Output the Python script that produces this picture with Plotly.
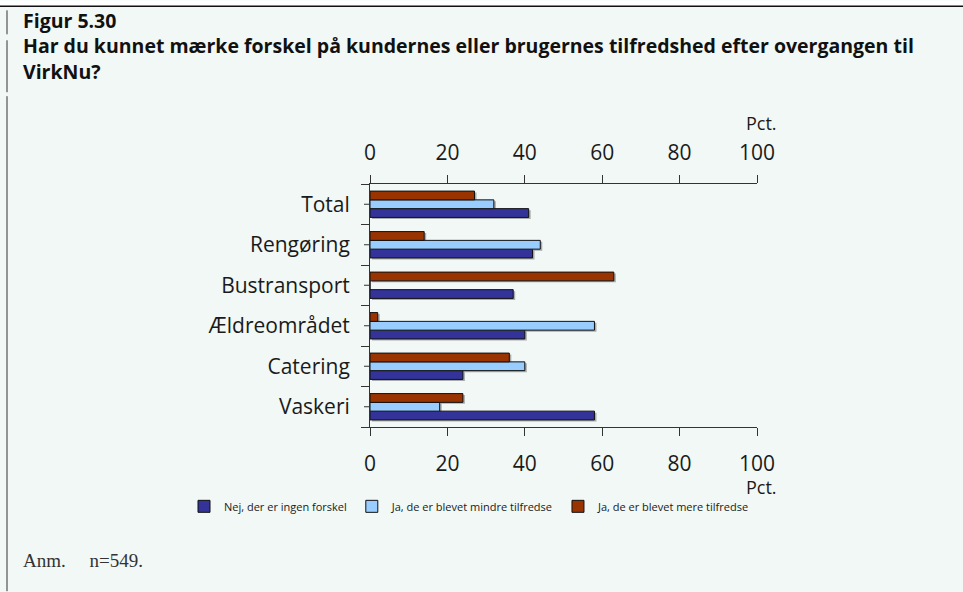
import plotly.graph_objects as go

# Survey results: change in customer/user satisfaction after the transition to VirkNu (pct.)
categories = ["Total", "Rengøring", "Bustransport", "Ældreområdet", "Catering", "Vaskeri"]
series_names = [
    "Nej, der er ingen forskel",
    "Ja, de er blevet mindre tilfredse",
    "Ja, de er blevet mere tilfredse",
]
ingen_forskel = [41, 42, 37, 40, 24, 58]
mindre_tilfredse = [32, 44, 0, 58, 40, 18]
mere_tilfredse = [27, 14, 63, 2, 36, 24]
x_ticks = [0, 20, 40, 60, 80, 100]

colors = ["#333399", "#99CCFF", "#993300"]
BG = "#F1F8F5"

W, H = 963, 592
L, R, T, B = 370, 757, 184, 427.5


def px(x):
    return (x - L) / (R - L)


def py(y):
    return (B - y) / (B - T)


# drop shadow offset in pixels, converted to axis units
SHADOW_DX, SHADOW_DY = 2.0, 1.5
dx_units = SHADOW_DX * 100 / (R - L)
dy_units = SHADOW_DY * len(categories) / (B - T)

series = [ingen_forskel, mindre_tilfredse, mere_tilfredse]
fig = go.Figure()

# shadows on the hidden base axes (drawn underneath)
for name, vals in zip(series_names, series):
    fig.add_trace(go.Bar(
        y=categories, x=vals, orientation="h", xaxis="x", yaxis="y",
        marker=dict(color="rgba(80,80,80,0.45)", line=dict(width=0)),
        showlegend=False, hoverinfo="skip",
    ))

# the bars themselves
for name, vals, col in zip(series_names, series, colors):
    fig.add_trace(go.Bar(
        y=categories, x=vals, name=name, orientation="h", xaxis="x2", yaxis="y2",
        marker=dict(color=col, line=dict(color="#111111", width=1)),
    ))

# invisible trace to carry the top axis
fig.add_trace(go.Scatter(x=[0, 100], y=[categories[0], categories[0]], xaxis="x3", yaxis="y2",
                         mode="markers", marker=dict(opacity=0), showlegend=False,
                         hoverinfo="skip"))

axis_common = dict(
    range=[0, 100], tickvals=x_ticks, showgrid=False, zeroline=False,
    showline=True, linecolor="#333333", linewidth=1,
    ticks="outside", ticklen=8, tickcolor="#333333", tickwidth=1,
    tickfont=dict(family="Open Sans", size=21, color="#1a1a1a"),
)
hidden = dict(visible=False, showgrid=False, zeroline=False, fixedrange=True)

fig.update_layout(
    width=W, height=H, autosize=False,
    margin=dict(l=L, r=W - R, t=T, b=H - B, autoexpand=False),
    paper_bgcolor=BG, plot_bgcolor=BG,
    barmode="group", bargap=0.35, bargroupgap=0,
    xaxis=dict(**hidden, range=[-dx_units, 100 - dx_units]),
    yaxis=dict(**hidden, type="category", categoryorder="array",
               categoryarray=categories[::-1],
               range=[-0.5 + dy_units, len(categories) - 0.5 + dy_units]),
    xaxis2=dict(**axis_common, side="bottom", overlaying="x", anchor="y2",
                ticklabelstandoff=10),
    xaxis3=dict(**axis_common, side="top", overlaying="x", anchor="y2",
                ticklabelstandoff=7),
    yaxis2=dict(
        overlaying="y", anchor="x2", side="left",
        categoryorder="array", categoryarray=categories[::-1],
        range=[-0.5, len(categories) - 0.5],
        showgrid=False, zeroline=False, showline=True, linecolor="#333333", linewidth=1,
        ticks="outside", ticklen=8, tickcolor="#333333", tickson="boundaries",
        tickfont=dict(family="Open Sans", size=21, color="#1a1a1a"),
        ticklabelstandoff=15,
    ),
    showlegend=True,
    legend=dict(
        orientation="h", x=px(184), xanchor="left", y=py(507), yanchor="middle",
        font=dict(family="Open Sans", size=11, color="#1a1a1a"),
        itemwidth=30, bgcolor="rgba(0,0,0,0)", traceorder="normal",
    ),
    font=dict(family="Open Sans"),
)

# center ticks on the category axis
shapes = []
for c in categories:
    shapes.append(dict(type="line", xref="paper", yref="y2", x0=px(364), x1=0, y0=c, y1=c,
                       line=dict(color="#333333", width=1)))

# header strip, top rule and left margin rule
shapes.append(dict(type="rect", xref="paper", yref="paper", x0=px(0), x1=px(W),
                   y0=py(6), y1=py(0), fillcolor="white", line=dict(width=0), layer="below"))
shapes.append(dict(type="line", xref="paper", yref="paper", x0=px(0), x1=px(W),
                   y0=py(6), y1=py(6), line=dict(color="#111111", width=1.5)))
for y0, y1 in [(10, 34), (40, 92), (96, 592)]:
    shapes.append(dict(type="line", xref="paper", yref="paper", x0=px(7), x1=px(7),
                       y0=py(y0), y1=py(y1), line=dict(color="#333333", width=1)))
fig.update_layout(shapes=shapes)

fig.add_annotation(
    text=("<b>Figur 5.30</b><br>"
          "<b>Har du kunnet mærke forskel på kundernes eller brugernes tilfredshed efter overgangen til</b><br>"
          "<b>VirkNu?</b>"),
    xref="paper", yref="paper", x=px(21), y=py(46), xanchor="left", yanchor="middle",
    align="left", showarrow=False,
    font=dict(family="Open Sans", size=19.5, color="#111111"),
)

for ypos in [123, 488]:
    fig.add_annotation(text="Pct.", xref="paper", yref="paper", x=px(779), y=py(ypos),
                       xanchor="right", yanchor="middle", showarrow=False,
                       font=dict(family="Open Sans", size=18, color="#1a1a1a"))

fig.add_annotation(text="Anm.&nbsp;&nbsp;&nbsp;&nbsp;&nbsp;n=549.", xref="paper", yref="paper",
                   x=px(21), y=py(561), xanchor="left", yanchor="middle", showarrow=False,
                   font=dict(family="Liberation Serif", size=19, color="#333333"))

fig.write_html("out.html")
